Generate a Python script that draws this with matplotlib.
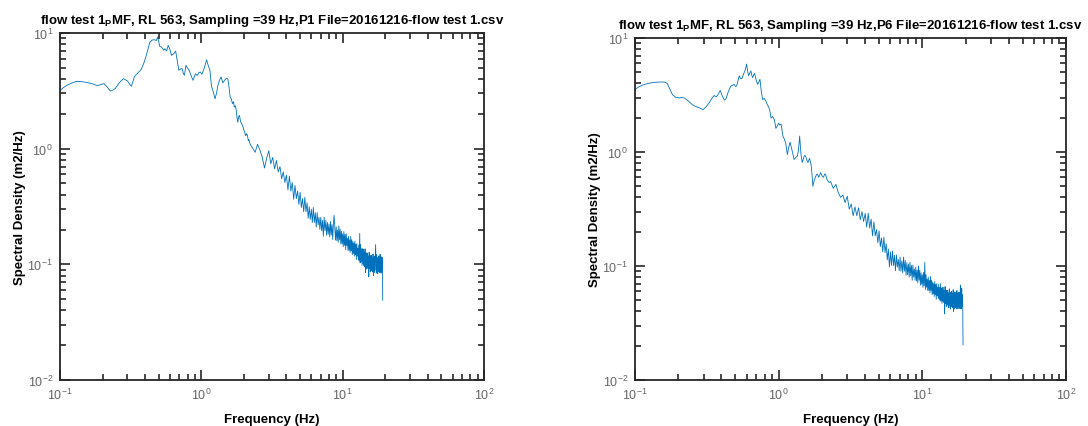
import numpy as np
import matplotlib
matplotlib.use("Agg")
import matplotlib.pyplot as plt

plt.rcParams['font.family'] = ['Liberation Sans', 'DejaVu Sans']
plt.rcParams['mathtext.fontset'] = 'custom'
plt.rcParams['mathtext.rm'] = 'Liberation Sans'
plt.rcParams['mathtext.bf'] = 'Liberation Sans:bold'

# ---- data ----
# P1, low frequency part (Hz, m2/Hz)
f_lo_p1 = [0.100, 0.106, 0.112, 0.120, 0.131, 0.142, 0.153, 0.168, 0.184, 0.195,
           0.205, 0.216, 0.227, 0.236, 0.246, 0.262, 0.281, 0.300, 0.320, 0.337,
           0.355, 0.374, 0.390, 0.405, 0.420, 0.433, 0.450, 0.466, 0.480, 0.491,
           0.500, 0.507, 0.518, 0.530, 0.541, 0.553, 0.568, 0.583, 0.600, 0.615,
           0.637, 0.658, 0.675, 0.693, 0.712, 0.731, 0.745, 0.758, 0.768, 0.778,
           0.800, 0.820, 0.845, 0.873, 0.890, 0.910, 0.935, 0.960, 0.984, 1.010,
           1.040, 1.065, 1.090, 1.120, 1.150, 1.180, 1.215, 1.250, 1.280, 1.310,
           1.345, 1.380, 1.420, 1.460, 1.500, 1.540, 1.570, 1.600, 1.630, 1.660,
           1.690, 1.710, 1.740, 1.760, 1.790, 1.810, 1.840, 1.860, 1.900, 1.950,
           1.980, 2.000, 2.030, 2.060, 2.090, 2.120, 2.150, 2.170, 2.200, 2.230,
           2.260]
s_lo_p1 = [3.19, 3.38, 3.53, 3.68, 3.82, 3.80, 3.74, 3.65, 3.51, 3.58,
           3.65, 3.40, 3.15, 3.20, 3.31, 3.70, 4.03, 3.85, 3.46, 4.22,
           4.50, 4.82, 5.40, 6.21, 7.30, 8.36, 8.70, 8.75, 8.60, 9.23,
           8.40, 7.67, 7.60, 7.40, 7.10, 7.32, 7.00, 7.82, 7.20, 6.41,
           6.60, 6.98, 5.80, 4.76, 4.90, 4.92, 4.50, 4.31, 4.70, 5.25,
           4.95, 4.76, 4.30, 3.90, 4.15, 4.45, 4.30, 4.55, 4.60, 4.40,
           4.82, 5.30, 5.87, 5.20, 4.76, 3.46, 3.10, 2.70, 3.00, 3.53,
           3.90, 4.17, 3.70, 3.90, 4.05, 4.03, 3.40, 2.80, 2.69, 2.45,
           2.55, 2.29, 2.35, 2.20, 1.85, 1.69, 1.90, 1.94, 1.70, 1.60,
           1.52, 1.45, 1.38, 1.29, 1.35, 1.30, 1.17, 1.20, 1.12, 1.08,
           1.05]

# P6, low frequency part
f_lo_p6 = [0.100, 0.106, 0.112, 0.122, 0.132, 0.143, 0.155, 0.162, 0.168, 0.175,
           0.182, 0.192, 0.203, 0.212, 0.220, 0.235, 0.251, 0.262, 0.272, 0.285,
           0.298, 0.313, 0.328, 0.342, 0.356, 0.366, 0.375, 0.384, 0.392, 0.401,
           0.410, 0.420, 0.430, 0.447, 0.465, 0.478, 0.490, 0.500, 0.510, 0.521,
           0.532, 0.543, 0.555, 0.565, 0.576, 0.587, 0.598, 0.608, 0.618, 0.630,
           0.641, 0.650, 0.660, 0.670, 0.680, 0.697, 0.713, 0.727, 0.741, 0.757,
           0.773, 0.795, 0.816, 0.833, 0.850, 0.868, 0.885, 0.910, 0.933, 0.945,
           0.957, 0.980, 1.000, 1.020, 1.040, 1.070, 1.095, 1.120, 1.150, 1.175,
           1.200, 1.240, 1.280, 1.320, 1.350, 1.375, 1.400, 1.430, 1.460, 1.490,
           1.510, 1.540, 1.570, 1.600, 1.640, 1.680, 1.710, 1.730, 1.760, 1.800,
           1.830, 1.860, 1.900, 1.960, 2.000, 2.050, 2.090, 2.120, 2.160, 2.200,
           2.250]
s_lo_p6 = [3.54, 3.72, 3.85, 3.98, 4.06, 4.10, 4.11, 4.09, 3.97, 3.55,
           3.19, 3.02, 2.98, 3.00, 2.98, 2.80, 2.60, 2.52, 2.48, 2.42,
           2.35, 2.50, 2.69, 2.95, 3.13, 3.05, 3.13, 3.30, 3.47, 3.20,
           3.00, 2.85, 2.94, 3.40, 3.80, 3.85, 3.92, 3.75, 3.80, 4.20,
           4.66, 4.40, 4.40, 4.70, 4.98, 5.30, 5.91, 5.10, 4.66, 4.95,
           5.15, 4.70, 4.50, 4.75, 4.90, 4.30, 3.92, 4.10, 4.35, 3.40,
           2.88, 2.95, 2.79, 2.60, 2.50, 2.30, 1.98, 2.05, 1.92, 1.75,
           1.61, 1.70, 1.79, 1.72, 1.75, 1.38, 1.30, 1.19, 0.95, 1.10,
           1.22, 1.03, 0.86, 0.90, 0.92, 1.05, 1.38, 0.95, 0.81, 0.88,
           0.93, 0.92, 0.85, 0.81, 0.88, 0.78, 0.62, 0.50, 0.55, 0.60,
           0.63, 0.64, 0.60, 0.66, 0.62, 0.60, 0.64, 0.64, 0.58, 0.56,
           0.54]

# high frequency part: 0.1 Hz bins from 2.3 Hz to 19.2 Hz
f_hi = np.arange(23, 193) / 10.0
s_hi_p1 = [1.02, 0.93, 1.09, 0.97, 0.84, 0.68, 0.83,
           0.96, 0.74, 0.84, 0.67, 0.79, 0.63, 0.70, 0.55, 0.63, 0.51,
           0.59, 0.44, 0.58, 0.43, 0.51, 0.365, 0.48, 0.37, 0.43, 0.33,
           0.42, 0.31, 0.37, 0.285, 0.38, 0.285, 0.34, 0.25, 0.315, 0.245,
           0.30, 0.23, 0.31, 0.23, 0.28, 0.21, 0.28, 0.22, 0.255, 0.20,
           0.255, 0.195, 0.24, 0.175, 0.255, 0.195, 0.24, 0.178, 0.23, 0.182,
           0.223, 0.173, 0.235, 0.179, 0.221, 0.164, 0.226, 0.265, 0.204, 0.162,
           0.211, 0.16, 0.198, 0.155, 0.215, 0.163, 0.201, 0.15, 0.193, 0.15,
           0.183, 0.142, 0.192, 0.146, 0.181, 0.134, 0.184, 0.145, 0.168, 0.132,
           0.174, 0.132, 0.163, 0.127, 0.174, 0.131, 0.163, 0.121, 0.157, 0.124,
           0.153, 0.118, 0.159, 0.121, 0.149, 0.11, 0.151, 0.118, 0.138, 0.11,
           0.147, 0.107, 0.185, 0.103, 0.148, 0.106, 0.136, 0.098, 0.137, 0.102,
           0.135, 0.098, 0.126, 0.095, 0.136, 0.085, 0.126, 0.091, 0.125, 0.094,
           0.125, 0.092, 0.118, 0.078, 0.127, 0.092, 0.118, 0.086, 0.119, 0.09,
           0.119, 0.088, 0.113, 0.086, 0.123, 0.08, 0.115, 0.085, 0.117, 0.089,
           0.117, 0.148, 0.111, 0.084, 0.121, 0.088, 0.113, 0.083, 0.115, 0.087,
           0.118, 0.087, 0.112, 0.085, 0.122, 0.089, 0.114, 0.084, 0.116, 0.088,
           0.115, 0.10, 0.049]
s_hi_p6 = [0.55, 0.48, 0.52, 0.44, 0.40, 0.42, 0.36,
           0.41, 0.315, 0.35, 0.276, 0.33, 0.276, 0.324, 0.255, 0.30, 0.246,
           0.289, 0.219, 0.29, 0.215, 0.258, 0.184, 0.244, 0.184, 0.208, 0.16,
           0.203, 0.148, 0.176, 0.133, 0.179, 0.131, 0.157, 0.113, 0.141, 0.098,
           0.133, 0.101, 0.135, 0.101, 0.124, 0.091, 0.125, 0.098, 0.114, 0.091,
           0.12, 0.09, 0.111, 0.087, 0.12, 0.09, 0.112, 0.083, 0.107, 0.084,
           0.104, 0.08, 0.108, 0.082, 0.101, 0.075, 0.102, 0.08, 0.094, 0.075,
           0.098, 0.074, 0.092, 0.071, 0.10, 0.075, 0.092, 0.068, 0.087, 0.069,
           0.084, 0.065, 0.088, 0.067, 0.108, 0.062, 0.084, 0.065, 0.077, 0.061,
           0.08, 0.061, 0.075, 0.058, 0.081, 0.061, 0.075, 0.056, 0.072, 0.057,
           0.07, 0.054, 0.073, 0.056, 0.069, 0.051, 0.07, 0.055, 0.065, 0.052,
           0.069, 0.051, 0.065, 0.049, 0.07, 0.05, 0.064, 0.047, 0.065, 0.049,
           0.065, 0.048, 0.061, 0.038, 0.066, 0.047, 0.06, 0.044, 0.061, 0.046,
           0.061, 0.045, 0.058, 0.043, 0.063, 0.045, 0.058, 0.042, 0.059, 0.044,
           0.06, 0.044, 0.057, 0.043, 0.062, 0.04, 0.058, 0.042, 0.059, 0.044,
           0.059, 0.043, 0.056, 0.042, 0.061, 0.044, 0.057, 0.042, 0.058, 0.044,
           0.059, 0.043, 0.057, 0.042, 0.068, 0.044, 0.057, 0.042, 0.064, 0.044,
           0.056, 0.048, 0.0203]

titles = [r'flow test 1$_\mathbf{P}$MF, RL 563, Sampling =39 Hz,P1 File=20161216-flow test 1.csv',
          r'flow test 1$_\mathbf{P}$MF, RL 563, Sampling =39 Hz,P6 File=20161216-flow test 1.csv']

LINE = '#0072BD'
DARK = '#262626'

fig = plt.figure(figsize=(10.88, 4.27), dpi=100)
ax1 = fig.add_axes([60/1088, 46/427, 424/1088, 347/427])
ax2 = fig.add_axes([635/1088, 46/427, 431/1088, 342/427])

series = [(np.concatenate([f_lo_p1, f_hi]), np.concatenate([s_lo_p1, s_hi_p1])),
          (np.concatenate([f_lo_p6, f_hi]), np.concatenate([s_lo_p6, s_hi_p6]))]

for ax, (f, s), ttl in zip([ax1, ax2], series, titles):
    ax.plot(f, s, color=LINE, lw=0.6)
    ax.set_xscale('log')
    ax.set_yscale('log')
    ax.set_xlim(0.1, 100)
    ax.set_ylim(0.01, 10)
    ax.tick_params(which='both', direction='in', top=True, right=True,
                   color=DARK, width=1.2, labelsize=9, labelcolor='#666666', pad=5)
    ax.tick_params(which='major', length=7)
    ax.tick_params(which='minor', length=4)
    for sp in ax.spines.values():
        sp.set_linewidth(1.3)
        sp.set_color(DARK)
    ax.set_xlabel('Frequency (Hz)', fontweight='bold', fontsize=9.5, labelpad=8)
    ax.set_ylabel('Spectral Density (m2/Hz)', fontweight='bold', fontsize=9.5, labelpad=1)
    ax.set_title(ttl, fontweight='bold', fontsize=9.5, pad=7.5)

fig.savefig('out.png', dpi=100)
